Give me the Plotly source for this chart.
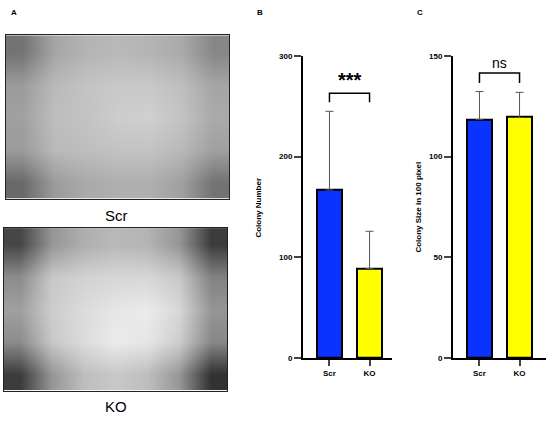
import plotly.graph_objects as go

# panel B / C data
groups = ["Scr", "KO"]
colony_number = [167, 89]
colony_number_sd = [78, 37]
colony_size = [118.5, 119.5]
colony_size_sd = [13.8, 12.4]
bar_colors = ["#0a33ff", "#ffff00"]

# significance brackets
sig_b = {"label": "***", "top": 263, "foot": 254}
sig_c = {"label": "ns", "top": 141.5, "foot": 136.5}

# coarse brightness (0-255), top row first
scr_plate = [
    [115, 165, 180, 185, 180, 170, 135],
    [155, 185, 195, 200, 200, 190, 165],
    [160, 190, 195, 205, 208, 195, 170],
    [155, 185, 190, 195, 195, 185, 160],
    [105, 155, 170, 175, 175, 160, 115],
]
ko_plate = [
    [70, 150, 175, 185, 180, 150, 60],
    [140, 200, 210, 215, 215, 200, 130],
    [160, 205, 220, 230, 235, 215, 150],
    [140, 200, 220, 235, 230, 205, 135],
    [60, 150, 190, 200, 190, 150, 50],
]

W, H = 550, 422
FONT = "Arial, Liberation Sans, sans-serif"


def px_x(p):
    return p / W


def px_y(p):
    return 1 - p / H


fig = go.Figure()

# ---- panel A: plate images ----
for i, (plate, box) in enumerate([(scr_plate, (6, 229, 32, 199)), (ko_plate, (4, 227, 229, 395))]):
    n = str(i + 1) if i else ""
    fig.add_trace(go.Heatmap(
        z=plate, colorscale=[[0, "black"], [1, "white"]], zmin=0, zmax=255,
        zsmooth="best", showscale=False, hoverinfo="skip",
        xaxis="x" + n, yaxis="y" + n,
    ))
    ncol, nrow = len(plate[0]), len(plate)
    fig.update_layout({
        "xaxis" + n: dict(domain=[px_x(box[0]), px_x(box[1])], range=[-0.5, ncol - 0.5],
                          showticklabels=False, ticks="", showgrid=False, zeroline=False,
                          showline=True, mirror=True, linecolor="#222", linewidth=1,
                          anchor="y" + n),
        "yaxis" + n: dict(domain=[px_y(box[3]), px_y(box[2])], range=[nrow - 0.5, -0.5],
                          showticklabels=False, ticks="", showgrid=False, zeroline=False,
                          showline=True, mirror=True, linecolor="#222", linewidth=1,
                          anchor="x" + n),
    })


def bar_panel(ax, values, sd, sig, xdom, ydom, yrange, dtick, xrange):
    xa, ya = "x" + ax, "y" + ax
    fig.add_trace(go.Bar(
        x=groups, y=values, marker=dict(color=bar_colors, line=dict(color="black", width=2)),
        width=0.62,
        error_y=dict(type="data", symmetric=False, array=sd, arrayminus=[0] * len(sd),
                     color="#555", thickness=1, width=4),
        xaxis=xa, yaxis=ya, showlegend=False,
    ))
    fig.add_trace(go.Scatter(
        x=[groups[0], groups[0], groups[1], groups[1]],
        y=[sig["foot"], sig["top"], sig["top"], sig["foot"]],
        mode="lines", line=dict(color="black", width=1.5),
        xaxis=xa, yaxis=ya, showlegend=False, hoverinfo="skip",
    ))
    fig.update_layout({
        "xaxis" + ax: dict(domain=xdom, range=xrange, anchor=ya, showline=True, linecolor="black",
                           linewidth=2, ticks="outside", ticklen=6, tickwidth=2,
                           tickfont=dict(size=8, family=FONT, color="black", weight="bold"),
                           showgrid=False, zeroline=False),
        "yaxis" + ax: dict(domain=ydom, range=yrange, dtick=dtick, anchor=xa, showline=True,
                           linecolor="black", linewidth=2, ticks="outside", ticklen=7,
                           tickwidth=2, tickfont=dict(size=8, family=FONT, color="black",
                                                      weight="bold"),
                           showgrid=False, zeroline=False),
    })


ydom = [px_y(362), px_y(53)]
bar_panel("3", colony_number, colony_number_sd, sig_b, [px_x(303), px_x(392)], ydom,
          [0, 300], 100, [-0.66, 1.56])
bar_panel("4", colony_size, colony_size_sd, sig_c, [px_x(453), px_x(546)], ydom,
          [0, 150], 50, [-0.66, 1.66])


def label(text, x, y, size, bold=False, angle=0):
    return dict(text="<b>%s</b>" % text if bold else text, x=px_x(x), y=px_y(y),
                xref="paper", yref="paper", xanchor="center", yanchor="middle",
                showarrow=False, textangle=angle,
                font=dict(size=size, family=FONT, color="black"))


annotations = [
    label("A", 14, 9, 8, bold=True),
    label("B", 260, 9, 8, bold=True),
    label("C", 420, 9, 8, bold=True),
    label("Scr", 116, 216, 15),
    label("KO", 116, 411, 15),
    label("Colony Number", 259, 208, 8, bold=True, angle=-90),
    label("Colony Size in 100 pixel", 419, 208, 8, bold=True, angle=-90),
    dict(text="<b>" + sig_b["label"] + "</b>", x=0.5, y=sig_b["top"], xref="x3", yref="y3",
         xanchor="center", yanchor="bottom", showarrow=False,
         font=dict(size=20, family=FONT, color="black")),
    dict(text=sig_c["label"], x=0.5, y=sig_c["top"], xref="x4", yref="y4",
         xanchor="center", yanchor="bottom", showarrow=False,
         font=dict(size=14, family=FONT, color="black")),
]

fig.update_layout(
    width=W, height=H, margin=dict(l=0, r=0, t=0, b=0),
    paper_bgcolor="white", plot_bgcolor="white",
    annotations=annotations, bargap=0,
)

fig.write_html("out.html", config={"displayModeBar": False},
               post_script="document.body.style.margin='0';")
